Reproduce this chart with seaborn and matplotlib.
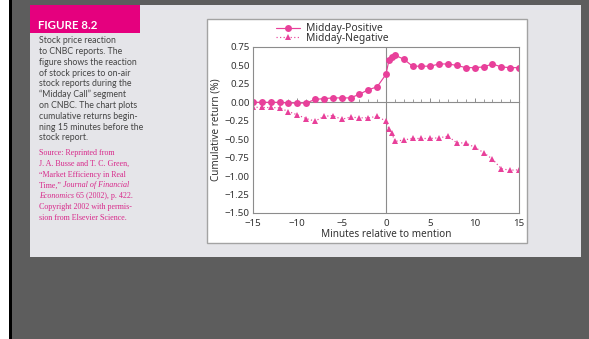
#!/usr/bin/env python3
# Figure 8.2 - stock price reaction to CNBC "Midday Call" reports

import numpy as np
import pandas as pd
import seaborn as sns
import matplotlib.pyplot as plt
from matplotlib.patches import Rectangle
from matplotlib.ticker import MultipleLocator, FuncFormatter

sns.set_theme(style="white")
plt.rcParams['font.family'] = ['Noto Sans', 'DejaVu Sans']

W, H = 589, 339
MAGENTA = "#e5007e"
PINK = "#e8409a"
PANEL = "#e5e5e9"
DARK = "#5d5d5d"
GRID = "#8c8c8c"

minutes = [-15, -14, -13, -12, -11, -10, -9, -8, -7, -6, -5, -4, -3, -2, -1,
           0, 0.33, 0.67, 1, 2, 3, 4, 5, 6, 7, 8, 9, 10, 11, 12, 13, 14, 15]
positive = [0.00, 0.00, 0.00, 0.00, -0.01, -0.01, -0.01, 0.04, 0.05, 0.06, 0.06,
            0.06, 0.11, 0.17, 0.21, 0.38, 0.57, 0.61, 0.64, 0.585, 0.49, 0.49,
            0.49, 0.52, 0.52, 0.50, 0.47, 0.47, 0.48, 0.52, 0.48, 0.47, 0.47]
negative = [-0.065, -0.07, -0.07, -0.075, -0.125, -0.17, -0.22, -0.255, -0.19,
            -0.18, -0.23, -0.20, -0.21, -0.21, -0.19, -0.255, -0.36, -0.42,
            -0.53, -0.51, -0.49, -0.49, -0.49, -0.48, -0.46, -0.55, -0.55,
            -0.61, -0.68, -0.77, -0.90, -0.92, -0.915]
series = ["Midday-Positive", "Midday-Negative"]

caption = [
    "Stock price reaction",
    "to CNBC reports. The",
    "figure shows the reaction",
    "of stock prices to on-air",
    "stock reports during the",
    "\u201cMidday Call\u201d segment",
    "on CNBC. The chart plots",
    "cumulative returns begin-",
    "ning 15 minutes before the",
    "stock report.",
]
# (text, italic) pieces per line
source = [
    [("Source: Reprinted from", False)],
    [("J. A. Busse and T. C. Green,", False)],
    [("\u201cMarket Efficiency in Real", False)],
    [("Time,\u201d ", False), ("Journal of Financial", True)],
    [("Economics", True), (" 65 (2002), p. 422.", False)],
    [("Copyright 2002 with permis-", False)],
    [("sion from Elsevier Science.", False)],
]

df = pd.DataFrame({
    "minutes": minutes * 2,
    "ret": positive + negative,
    "series": [series[0]] * len(minutes) + [series[1]] * len(minutes),
})

fig = plt.figure(figsize=(W / 100, H / 100), dpi=100)
fig.patch.set_facecolor(DARK)

# background page drawn in pixel coordinates
bg = fig.add_axes([0, 0, 1, 1])
bg.set_xlim(0, W)
bg.set_ylim(H, 0)
bg.axis("off")
bg.add_patch(Rectangle((0, 0), 9, H, color="white", lw=0))
bg.add_patch(Rectangle((9, 0), 3, H, color="black", lw=0))
bg.add_patch(Rectangle((29.5, 5), 551.5, 252, color=PANEL, lw=0))
bg.add_patch(Rectangle((29.5, 5), 110, 27.7, color=MAGENTA, lw=0))
bg.add_patch(Rectangle((207, 19), 320, 223.5, facecolor="white",
                       edgecolor="#a3a3a3", lw=1))

bg.text(38.5, 25.5, "FIGURE 8.2", color="white", fontsize=8.3, fontweight="bold",
        family=["Lato", "DejaVu Sans"], va="center", ha="left")
for i, line in enumerate(caption):
    bg.text(39, 40.7 + i * 10.8, line, color="#444444", fontsize=6.3,
            family=["Lato", "DejaVu Sans"], va="center", ha="left")
for i, pieces in enumerate(source):
    prev = None
    for txt, ital in pieces:
        kw = dict(color="#d8288a", fontsize=5.8, family=["Liberation Serif"],
                  style="italic" if ital else "normal", va="center")
        if prev is None:
            prev = bg.text(39, 153.3 + i * 10.7, txt, ha="left", **kw)
        else:
            prev = bg.annotate(txt, xy=(1, 0.5), xycoords=prev, ha="left", **kw)

# chart
ax = fig.add_axes([253 / W, 1 - 213 / H, 266 / W, 166 / H])
ax.set_facecolor("white")
sns.lineplot(data=df, x="minutes", y="ret", hue="series", style="series",
             palette=[PINK, PINK], markers={series[0]: "o", series[1]: "^"},
             dashes={series[0]: "", series[1]: (1, 2)}, markersize=5,
             markeredgewidth=0, linewidth=0.85, ax=ax)

ax.axvline(0, color=GRID, lw=0.8, zorder=1)
ax.set_xlim(-15, 15)
ax.set_ylim(-1.5, 0.75)
ax.xaxis.set_major_locator(MultipleLocator(5))
ax.yaxis.set_major_locator(MultipleLocator(0.25))
minus = lambda fmt: FuncFormatter(lambda v, p: fmt.format(v).replace("-", "\u2212"))
ax.yaxis.set_major_formatter(minus("{:.2f}"))
ax.xaxis.set_major_formatter(minus("{:.0f}"))
ax.tick_params(length=0, labelsize=7, colors="#333333")
ax.tick_params(axis="y", pad=2.5)
ax.tick_params(axis="x", pad=4)
for s in ax.spines.values():
    s.set_color(GRID)
    s.set_linewidth(0.8)

# zero line with tick marks pointing up
sec = ax.secondary_xaxis(2 / 3)
sec.set_xticks(range(-15, 16, 5))
sec.xaxis.set_minor_locator(MultipleLocator(1))
sec.tick_params(which="major", direction="out", length=3, width=0.7, color=GRID,
                labelbottom=False, labeltop=False)
sec.tick_params(which="minor", direction="out", length=2, width=0.6, color=GRID)
for s in sec.spines.values():
    s.set_color(GRID)
    s.set_linewidth(0.8)

ax.set_xlabel("Minutes relative to mention", fontsize=7.2, color="#333333")
ax.set_ylabel("Cumulative return (%)", fontsize=7.2, color="#333333")
ax.xaxis.set_label_coords(0.5, (213 - 229) / 166)
ax.yaxis.set_label_coords((221 - 253) / 266, 0.5)

handles, labels = ax.get_legend_handles_labels()
ax.get_legend().remove()
fig.legend(handles, labels, loc="upper left",
           bbox_to_anchor=(276 / W, 1 - 23.5 / H), frameon=False,
           fontsize=7.4, handlelength=2.3, handletextpad=0.6,
           labelspacing=-0.15, borderpad=0, borderaxespad=0,
           labelcolor="#333333")

fig.savefig("out.png", dpi=100, facecolor=DARK)
